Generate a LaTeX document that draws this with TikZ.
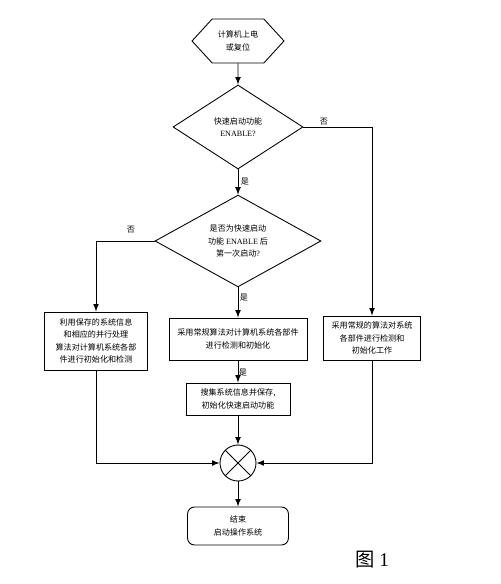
\documentclass[tikz,border=0pt]{standalone}
\usepackage{fontspec}
\setmainfont{Liberation Serif}
\newfontfamily\cjk{Noto Sans CJK SC}
\tikzset{>=latex}
\usetikzlibrary{shapes}

\newcommand{\lat}[1]{{\rmfamily #1}}

\begin{document}
\begin{tikzpicture}[x=0.02cm, y=-0.02cm, line width=0.5pt,
    txt/.style={font=\cjk\fontsize{4.6}{7}\selectfont, align=center, inner sep=0pt},
    box/.style={txt, draw, rectangle},
    ask/.style={txt, draw, diamond},
    lbl/.style={font=\cjk\fontsize{4.6}{6}\selectfont, inner sep=0pt}]
  \useasboundingbox (0,0) rectangle (500,584);
  % start and the two questions
  \node[txt, draw, signal, signal to=west and east, signal pointer angle=95,
        minimum width=1.84cm, minimum height=0.88cm] (start) at (238,41) {计算机上电\\或复位};
  \node[ask, minimum width=2.6cm, minimum height=1.68cm] (fast) at (238,127)
    {快速启动功能\\\lat{ENABLE?}};
  \node[ask, minimum width=3.32cm, minimum height=1.64cm] (first) at (238,241)
    {是否为快速启动\\功能 \lat{ENABLE} 后\\第一次启动\lat{?}};
  % the three ways
  \node[box, minimum width=2.06cm, minimum height=1.16cm] (saved) at (96,341)
    {利用保存的系统信息\\和相应的并行处理\\算法对计算机系统各部\\件进行初始化和检测};
  \node[box, minimum width=2.76cm, minimum height=0.84cm] (normal) at (238,339)
    {采用常规算法对计算机系统各部件\\进行检测和初始化};
  \node[box, minimum width=1.94cm, minimum height=0.88cm] (plain) at (372,338)
    {采用常规的算法对系统\\各部件进行检测和\\初始化工作};
  \node[box, minimum width=2.08cm, minimum height=0.64cm] (collect) at (238,399)
    {搜集系统信息并保存,\\初始化快速启动功能};
  % join and end
  \node[draw, circle, minimum size=0.72cm, inner sep=0pt] (join) at (238,463) {};
  \draw (join.north west) -- (join.south east);
  \draw (join.north east) -- (join.south west);
  \node[box, rounded corners=4pt, minimum width=2.02cm, minimum height=0.76cm] (stop) at (238,526)
    {结束\\启动操作系统};
  % connections
  \draw[->] (start) -- (fast);
  \draw[->] (fast) -- (first);
  \draw[->] (fast.east) -| (plain.north);
  \draw[->] (first.west) -| (saved.north);
  \draw[->] (first) -- (normal);
  \draw[->] (normal) -- (collect);
  \draw[->] (collect) -- (join);
  \draw[->] (saved.south) |- (join.west);
  \draw[->] (plain.south) |- (join.east);
  \draw[->] (join) -- (stop);
  % labels
  \node[lbl] (no1) at (324,122) {否};
  \node[lbl] (yes1) at (245,182) {是};
  \node[lbl] (no2) at (131,230) {否};
  \node[lbl] (yes2) at (244,298) {是};
  \node[lbl] (yes3) at (243,373) {是};
  \node[font=\fontsize{11}{13}\selectfont, inner sep=0pt] (fig) at (372,560) {{\cjk 图} 1};
\end{tikzpicture}
\end{document}
